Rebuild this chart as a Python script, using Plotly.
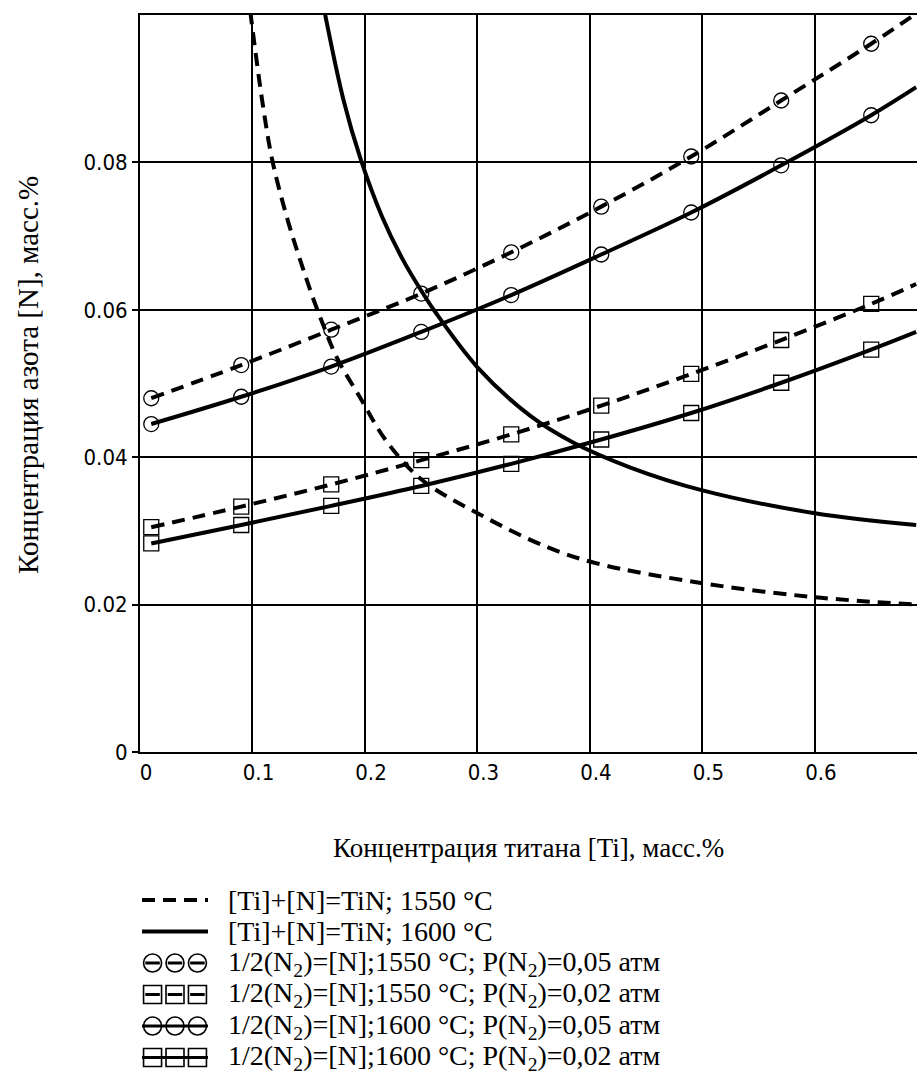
import plotly.graph_objects as go

# ---------------- data ----------------
# [Ti]+[N]=TiN equilibrium curves
tin1550_x = [0.098, 0.109, 0.118, 0.132, 0.144, 0.154, 0.164, 0.175, 0.196, 0.219, 0.250, 0.300, 0.362, 0.406, 0.500, 0.600, 0.690]
tin1550_y = [0.1005, 0.0880, 0.0800, 0.0718, 0.0660, 0.0615, 0.0575, 0.0535, 0.0480, 0.0422, 0.0370, 0.0324, 0.0278, 0.0256, 0.0229, 0.0210, 0.0200]

tin1600_x = [0.164, 0.181, 0.196, 0.215, 0.234, 0.250, 0.262, 0.300, 0.347, 0.385, 0.436, 0.500, 0.600, 0.690]
tin1600_y = [0.1005, 0.0884, 0.0805, 0.0727, 0.0667, 0.0626, 0.0598, 0.0522, 0.0456, 0.0420, 0.0386, 0.0355, 0.0324, 0.0308]

# 1/2(N2)=[N] solubility curves: marker positions
mark_x = [0.01, 0.09, 0.17, 0.25, 0.33, 0.41, 0.49, 0.57, 0.65]
n1550_05 = [0.0480, 0.0525, 0.0573, 0.0622, 0.0678, 0.0740, 0.0808, 0.0884, 0.0961]
n1550_02 = [0.0305, 0.0333, 0.0363, 0.0396, 0.0431, 0.0470, 0.0513, 0.0559, 0.0608]
n1600_05 = [0.0445, 0.0482, 0.0523, 0.0570, 0.0620, 0.0675, 0.0732, 0.0796, 0.0864]
n1600_02 = [0.0283, 0.0308, 0.0334, 0.0361, 0.0391, 0.0424, 0.0460, 0.0501, 0.0546]

# line end values at the right edge of the plot
line_x_end = 0.69
end_vals = {"1550_05": 0.1002, "1550_02": 0.0635, "1600_05": 0.0902, "1600_02": 0.0570}

x_ticks = [0, 0.1, 0.2, 0.3, 0.4, 0.5, 0.6]
x_ticktext = ["0", "0.1", "0.2", "0.3", "0.4", "0.5", "0.6"]
y_ticks = [0, 0.02, 0.04, 0.06, 0.08]
y_ticktext = ["0", "0.02", "0.04", "0.06", "0.08"]

x_title = "Концентрация титана [Ti], масс.%"
y_title = "Концентрация азота [N], масс.%"

legend_rows = [0, 1, 2, 3, 4, 5]
legend_labels = [
    "[Ti]+[N]=TiN; 1550 °C",
    "[Ti]+[N]=TiN; 1600 °C",
    "1/2(N<sub>2</sub>)=[N];1550 °C; P(N<sub>2</sub>)=0,05 атм",
    "1/2(N<sub>2</sub>)=[N];1550 °C; P(N<sub>2</sub>)=0,02 атм",
    "1/2(N<sub>2</sub>)=[N];1600 °C; P(N<sub>2</sub>)=0,05 атм",
    "1/2(N<sub>2</sub>)=[N];1600 °C; P(N<sub>2</sub>)=0,02 атм",
]
legend_sample_x = [0.0, 1.0]
legend_marker_x = [0.16, 0.5, 0.84]

# ---------------- layout geometry (pixels) ----------------
W, H = 917, 1091
PL, PR, PT, PB = 140, 917, 15, 752
XMAX = 0.6907

TEXT_FONT = dict(family="Liberation Serif, Times New Roman, serif", size=28, color="black")
XTITLE_FONT = dict(family="Liberation Serif, Times New Roman, serif", size=27, color="black")
YTITLE_FONT = dict(family="Liberation Serif, Times New Roman, serif", size=29, color="black")
TICK_FONT = dict(family="Liberation Sans Narrow, DejaVu Sans Condensed, Liberation Sans, sans-serif", size=22, color="black")

DASH = "13px,8px"
LW = 4

fig = go.Figure()

def curve(x, y, dash):
    fig.add_trace(go.Scatter(x=x, y=y, mode="lines",
                             line=dict(color="black", width=LW, dash=dash, shape="spline", smoothing=1.0),
                             showlegend=False, hoverinfo="skip"))

def marks(x, y, symbol, size):
    fig.add_trace(go.Scatter(x=x, y=y, mode="markers",
                             marker=dict(symbol=symbol, size=size, color="black", line=dict(color="black", width=1.3)),
                             showlegend=False, hoverinfo="skip"))

curve(tin1550_x, tin1550_y, DASH)
curve(tin1600_x, tin1600_y, "solid")

series = [
    ("1550_05", n1550_05, DASH, "circle-open", 15),
    ("1600_05", n1600_05, "solid", "circle-open", 15),
    ("1550_02", n1550_02, DASH, "square-open", 15),
    ("1600_02", n1600_02, "solid", "square-open", 15),
]
for key, vals, dash, sym, sz in series:
    lx = mark_x + [line_x_end]
    ly = vals + [end_vals[key]]
    curve(lx, ly, dash)
for key, vals, dash, sym, sz in series:
    marks(mark_x, vals, sym, sz)

# ---------------- custom legend (symbols drawn in an auxiliary axis) ----------------
leg_styles = [
    (DASH, None), ("solid", None),
    (DASH, "circle-open"), (DASH, "square-open"),
    ("solid", "circle-open"), ("solid", "square-open"),
]
HALF = 0.11
for row, (dash, sym) in zip(legend_rows, leg_styles):
    if sym is None or dash == "solid":
        sx, sy = legend_sample_x, [row, row]
        lw = LW if sym is None else 3
        ldash = dash
    else:
        sx, sy = [], []
        for c in legend_marker_x:
            sx += [c - HALF, c + HALF, None]
            sy += [row, row, None]
        lw, ldash = 3, "solid"
    fig.add_trace(go.Scatter(x=sx, y=sy, mode="lines", xaxis="x2", yaxis="y2",
                             line=dict(color="black", width=lw, dash=ldash),
                             showlegend=False, hoverinfo="skip", cliponaxis=False))
    if sym is not None:
        fig.add_trace(go.Scatter(x=legend_marker_x, y=[row] * 3, mode="markers", xaxis="x2", yaxis="y2",
                                 marker=dict(symbol=sym, size=18, color="black", line=dict(color="black", width=1.6)),
                                 showlegend=False, hoverinfo="skip", cliponaxis=False))

ROW0, ROWSTEP = 900.0, 31.5
LEG_TOP, LEG_BOT = 885, 1075
y2_range = [(LEG_BOT - ROW0) / ROWSTEP, (LEG_TOP - ROW0) / ROWSTEP]

annotations = []
for row, lab in zip(legend_rows, legend_labels):
    annotations.append(dict(x=226 / W, xref="paper", y=row, yref="y2", text=lab, showarrow=False,
                            xanchor="left", yanchor="middle", font=TEXT_FONT))
annotations.append(dict(x=((PL + PR) / 2) / W, xref="paper", y=1 - 848 / H, yref="paper", text=x_title,
                        showarrow=False, xanchor="center", yanchor="middle", font=XTITLE_FONT))
annotations.append(dict(x=28 / W, xref="paper", y=1 - 375 / H, yref="paper", text=y_title, textangle=-90,
                        showarrow=False, xanchor="center", yanchor="middle", font=YTITLE_FONT))

fig.update_layout(
    width=W, height=H, autosize=False,
    margin=dict(l=0, r=0, t=0, b=0),
    paper_bgcolor="white", plot_bgcolor="white",
    showlegend=False,
    xaxis=dict(domain=[PL / W, PR / W], range=[0, XMAX], tickvals=x_ticks, ticktext=x_ticktext,
               showgrid=True, gridcolor="black", gridwidth=1.5, zeroline=False,
               showline=True, linecolor="black", linewidth=2, mirror=True,
               ticks="", tickfont=TICK_FONT, ticklabelshift=6, ticklabelstandoff=0, automargin=False, fixedrange=True),
    yaxis=dict(domain=[1 - PB / H, 1 - PT / H], range=[0, 0.1], tickvals=y_ticks, ticktext=y_ticktext,
               showgrid=True, gridcolor="black", gridwidth=1.5, zeroline=False,
               showline=True, linecolor="black", linewidth=2, mirror=False,
               ticks="outside", ticklen=6, tickcolor="black", tickwidth=1.5,
               tickfont=TICK_FONT, automargin=False, fixedrange=True),
    xaxis2=dict(domain=[142 / W, 208 / W], range=[0, 1], visible=False, anchor="y2", fixedrange=True),
    yaxis2=dict(domain=[1 - LEG_BOT / H, 1 - LEG_TOP / H], range=y2_range, visible=False, anchor="x2", fixedrange=True),
    annotations=annotations,
)

fig.write_html("out.html")
